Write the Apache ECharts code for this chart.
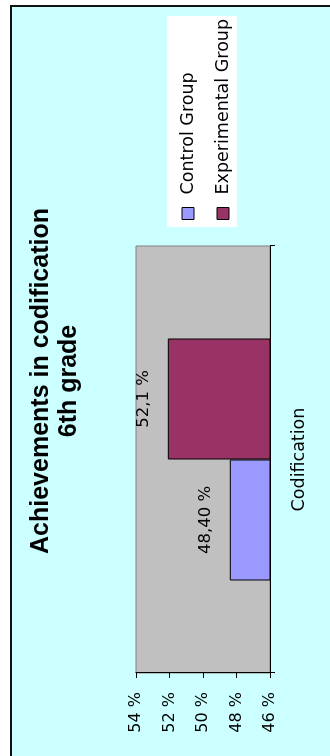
<!DOCTYPE html>
<html>
<head>
<meta charset="utf-8">
<title>Achievements in codification - 6th grade</title>
<script src="https://cdn.jsdelivr.net/npm/echarts@6/dist/echarts.min.js"></script>
<style>
  html, body { margin: 0; padding: 0; width: 330px; height: 756px; overflow: hidden; background: #ffffff; }
  /* The chart is laid out landscape (756 x 330) and turned a quarter turn
     counter-clockwise so it reads bottom-to-top on the portrait page. */
  #chart {
    position: absolute; left: 0; top: 0;
    width: 756px; height: 330px;
    transform-origin: 0 0;
    transform: translate(0, 756px) rotate(-90deg);
  }
</style>
</head>
<body>
<div id="chart"></div>
<script>
// ---- data ----
const categories = ['Codification'];
const seriesNames = ['Control Group', 'Experimental Group'];
const controlValues = [48.40];
const experimentalValues = [52.1];
const labelDecimals = [2, 1];           // decimals shown in each series' value label
const valueTicks = { min: 46, max: 54, step: 2 };

const seriesColors = ['#9999FF', '#993366'];

const chart = echarts.init(document.getElementById('chart'), null, { renderer: 'canvas' });

function pct(v, d) {
  return v.toFixed(d).replace('.', ',') + ' %';
}

const seriesValues = [controlValues, experimentalValues];

const option = {
  backgroundColor: '#ffffff',
  animation: false,
  title: {
    text: 'Achievements in codification\n6th grade',
    left: 375,
    top: 27,
    padding: 0,
    textAlign: 'center',
    textStyle: {
      fontFamily: 'Liberation Sans, Arial, sans-serif',
      fontWeight: 'bold',
      fontSize: 25,
      lineHeight: 28,
      color: '#000000'
    }
  },
  graphic: [
    {
      type: 'rect',
      z: -10,
      shape: { x: -10, y: 11, width: 760, height: 400 },
      style: { fill: '#CCFFFF', stroke: '#111111', lineWidth: 2 }
    },
    {
      type: 'rect',
      z: -5,
      shape: { x: 529, y: 167, width: 211, height: 70 },
      style: { fill: '#ffffff' }
    }
  ],
  legend: {
    orient: 'vertical',
    left: 536,
    top: 178,
    padding: 0,
    itemGap: 15,
    itemWidth: 12,
    itemHeight: 12,
    icon: 'rect',
    itemStyle: { borderColor: '#000000', borderWidth: 1 },
    textStyle: {
      fontFamily: 'DejaVu Sans, sans-serif',
      fontSize: 17.5,
      lineHeight: 20,
      color: '#000000',
      padding: [0, 0, 0, 8]
    },
    data: seriesNames
  },
  grid: {
    left: 83,
    right: 246,
    top: 136,
    bottom: 60,
    show: true,
    backgroundColor: '#C0C0C0',
    borderColor: '#808080',
    borderWidth: 1
  },
  xAxis: {
    type: 'category',
    data: categories,
    axisLine: { lineStyle: { color: '#000000', width: 1 } },
    axisTick: { show: true, length: 5, lineStyle: { color: '#000000' } },
    axisLabel: {
      margin: 20,
      fontFamily: 'DejaVu Sans, sans-serif',
      fontSize: 17.5,
      color: '#000000'
    }
  },
  yAxis: {
    type: 'value',
    min: valueTicks.min,
    max: valueTicks.max,
    interval: valueTicks.step,
    splitLine: { show: false },
    axisLine: { show: true, lineStyle: { color: '#000000', width: 1 } },
    axisTick: { show: true, length: 5, lineStyle: { color: '#000000' } },
    axisLabel: {
      margin: 19,
      fontFamily: 'DejaVu Sans, sans-serif',
      fontSize: 16,
      color: '#000000',
      formatter: function (v) { return v + ' %'; }
    }
  },
  series: seriesNames.map(function (name, i) {
    return {
      name: name,
      type: 'bar',
      data: seriesValues[i],
      barWidth: 121,
      barGap: '0%',
      itemStyle: { color: seriesColors[i], borderColor: '#000000', borderWidth: 1 },
      label: {
        show: true,
        position: 'top',
        distance: 16,
        fontFamily: 'DejaVu Sans, sans-serif',
        fontSize: 16.5,
        color: '#000000',
        formatter: function (p) { return pct(p.value, labelDecimals[i]); }
      }
    };
  })
};

chart.setOption(option);
</script>
</body>
</html>
